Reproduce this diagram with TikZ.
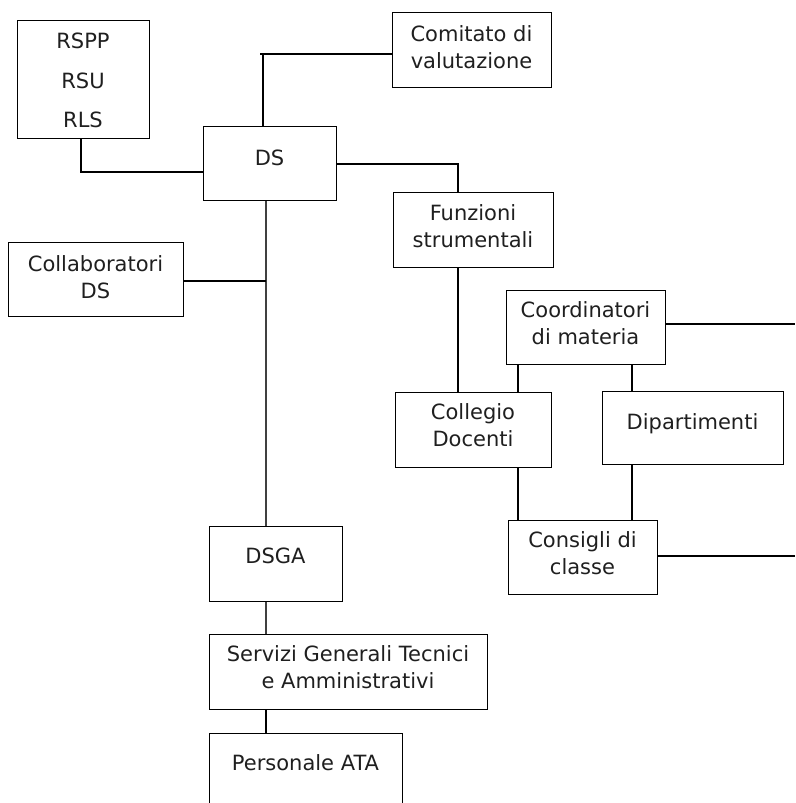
\documentclass[tikz,border=0pt]{standalone}
\usepackage{fontspec}
\setmainfont{DejaVu Sans}
\begin{document}
\begin{tikzpicture}[x=1pt,y=-1pt,
  box/.style={draw, line width=1.4pt, inner sep=0pt, anchor=north west},
  txt/.style={font=\fontsize{21}{27}\selectfont, align=center, anchor=base, inner sep=0pt, text=black!88},
  conn/.style={line width=1.4pt},
  spine/.style={line width=1.7pt, black!75}]
\useasboundingbox (0,0) rectangle (795,803);
\clip (0,0) rectangle (795,803);
% boxes
\node[box, minimum width=132pt, minimum height=118pt] (rspp) at (17,20) {};
\node[box, minimum width=159pt, minimum height=75pt] (comitato) at (392,12) {};
\node[box, minimum width=133pt, minimum height=74pt] (ds) at (203,126) {};
\node[box, minimum width=160pt, minimum height=75pt] (funzioni) at (393,192) {};
\node[box, minimum width=175pt, minimum height=74pt] (collab) at (8,242) {};
\node[box, minimum width=159pt, minimum height=74pt] (coord) at (506,290) {};
\node[box, minimum width=156pt, minimum height=75pt] (collegio) at (395,392) {};
\node[box, minimum width=181pt, minimum height=73pt] (dipart) at (602,391) {};
\node[box, minimum width=149pt, minimum height=74pt] (consigli) at (508,520) {};
\node[box, minimum width=133pt, minimum height=75pt] (dsga) at (209,526) {};
\node[box, minimum width=278pt, minimum height=75pt] (servizi) at (209,634) {};
\node[box, minimum width=193pt, minimum height=75pt] (personale) at (209,733) {};
% texts (anchor=base is the baseline of the last line)
\node[txt] (trspp) at (83,127.5) {RSPP\\[12.5pt]RSU\\[12.5pt]RLS};
\node[txt] (tcomitato) at (471.5,68.5) {Comitato di\\valutazione};
\node[txt] (tds) at (269.5,165.5) {DS};
\node[txt] (tfunzioni) at (473,247.5) {Funzioni\\strumentali};
\node[txt] (tcollab) at (95.5,298.5) {Collaboratori\\DS};
\node[txt] (tcoord) at (585.5,344.5) {Coordinatori\\di materia};
\node[txt] (tcollegio) at (473,446.5) {Collegio\\Docenti};
\node[txt] (tdipart) at (692.5,429.5) {Dipartimenti};
\node[txt] (tconsigli) at (582.5,574.5) {Consigli di\\classe};
\node[txt] (tdsga) at (275.5,563.5) {DSGA};
\node[txt] (tservizi) at (348,688.5) {Servizi Generali Tecnici\\e Amministrativi};
\node[txt] (tpersonale) at (305.5,770.5) {Personale ATA};
% connector helper coordinates
\coordinate (c1) at (263,54);
\coordinate (c2) at (81,172);
\coordinate (c3) at (458,164);
\coordinate (c4) at (266,281);
\coordinate (c5) at (518,380);
\coordinate (c6) at (632,380);
\coordinate (e1) at (795,324);
\coordinate (e2) at (795,556);
% connectors
\draw[conn] (ds.north -| c1) -- (c1);
\draw[conn] ([xshift=-3pt]c1) -- (comitato.west |- c1);
\draw[conn] (rspp.south -| c2) -- (c2) -- (ds.west |- c2);
\draw[conn] (ds.east |- c3) -- (c3) -- (funzioni.north -| c3);
\draw[conn] (funzioni.south -| c3) -- (collegio.north -| c3);
\draw[spine] (ds.south -| c4) -- (dsga.north -| c4);
\draw[conn] (collab.east |- c4) -- (c4);
\draw[spine] (dsga.south -| c4) -- (servizi.north -| c4);
\draw[conn] (servizi.south -| c4) -- (personale.north -| c4);
\draw[conn] (coord.south -| c5) -- (collegio.north -| c5);
\draw[conn] (collegio.south -| c5) -- (consigli.north -| c5);
\draw[conn] (coord.south -| c6) -- (dipart.north -| c6);
\draw[conn] (dipart.south -| c6) -- (consigli.north -| c6);
\draw[conn] (coord.east |- e1) -- (e1);
\draw[conn] (consigli.east |- e2) -- (e2);
\end{tikzpicture}
\end{document}
